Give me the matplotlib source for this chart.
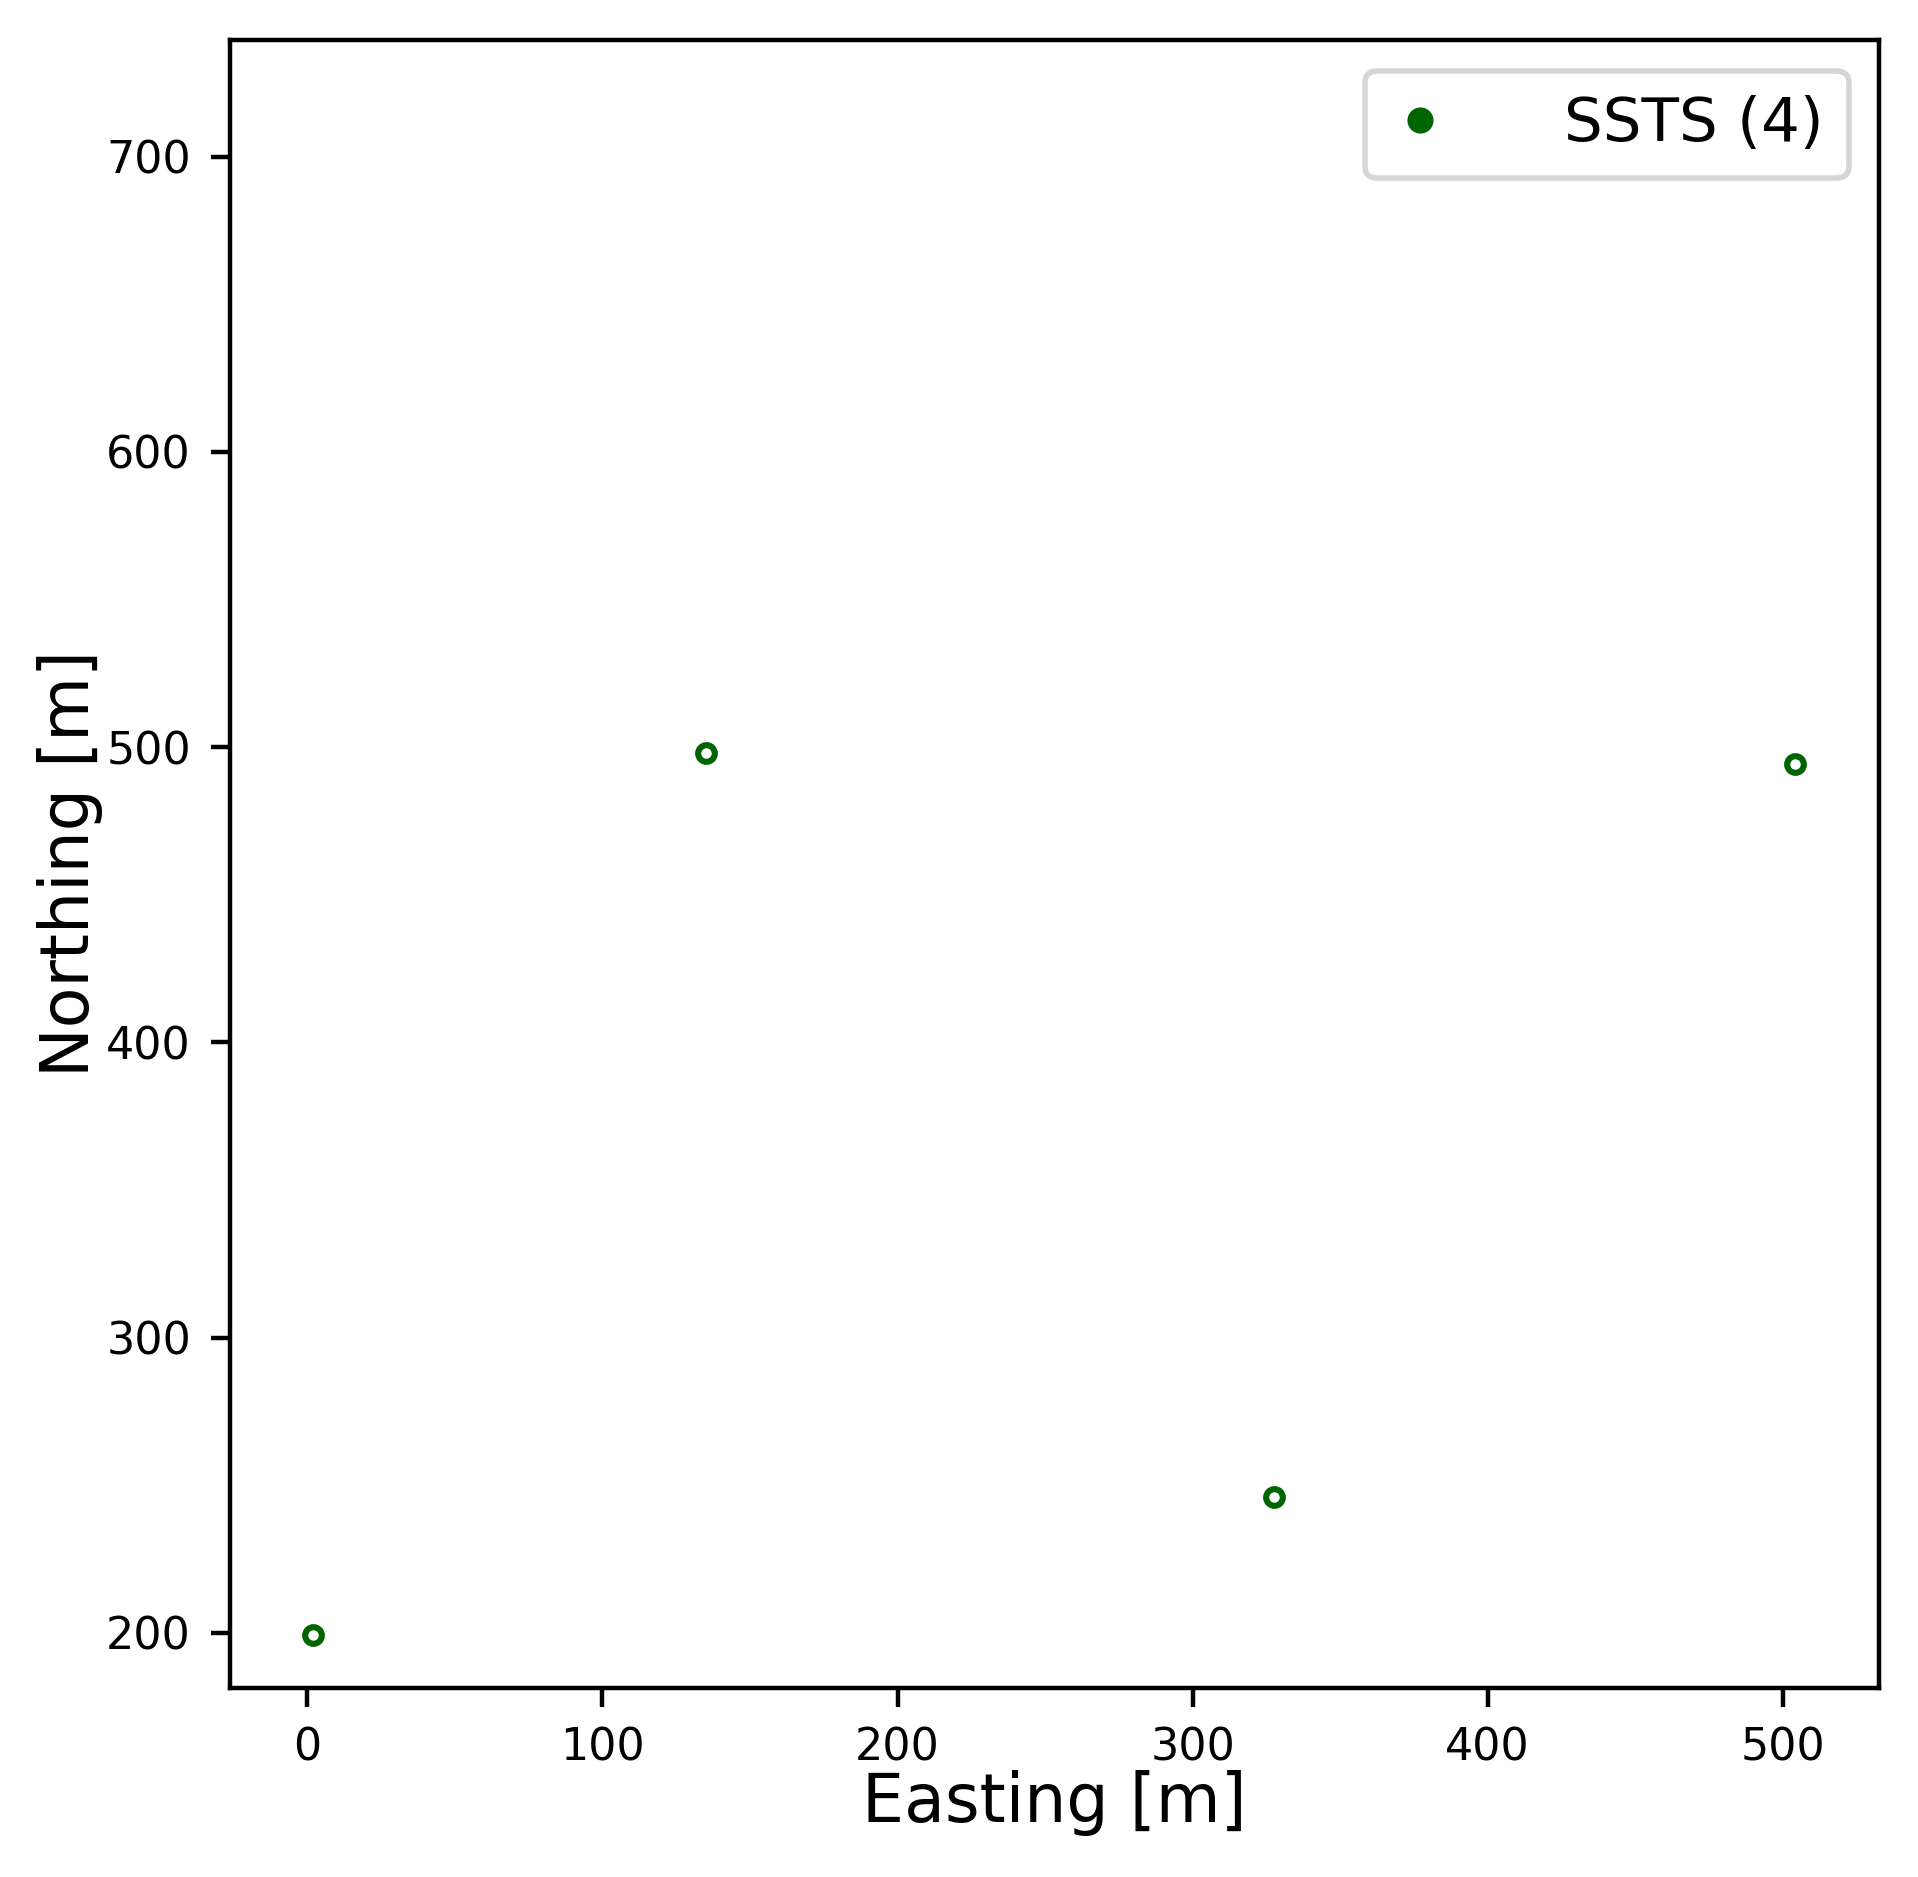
import matplotlib
matplotlib.use("Agg")
import matplotlib.pyplot as plt
from matplotlib.lines import Line2D

# station coordinates (m)
easting = [2.0, 135.1, 327.7, 504.1]
northing = [199.2, 497.9, 246.1, 494.4]
label = "SSTS (4)"
col = "#006400"

fig = plt.figure(figsize=(1918/400, 1877/400), dpi=400)
ax = fig.add_axes([0.1199, 0.1007, 0.8598, 0.878])

ax.plot(easting, northing, linestyle="none", marker="o", markersize=3.0,
        markerfacecolor="none", markeredgecolor=col, markeredgewidth=1.1)

ax.set_xlim(-26.2, 532.6)
ax.set_ylim(181.3, 739.5)
ax.set_xticks([0, 100, 200, 300, 400, 500])
ax.set_yticks([200, 300, 400, 500, 600, 700])
ax.tick_params(labelsize=8)

ax.set_xlabel("Easting [m]", fontsize=12, labelpad=0)
ax.set_ylabel("Northing [m]", fontsize=12, labelpad=0.5)

h = Line2D([], [], linestyle="none", marker="o", markersize=3.7, color=col)
ax.legend([h], [label], loc="upper right", fontsize=11,
          handlelength=1.0, handletextpad=1.87)

fig.savefig("out.png", dpi=400)
